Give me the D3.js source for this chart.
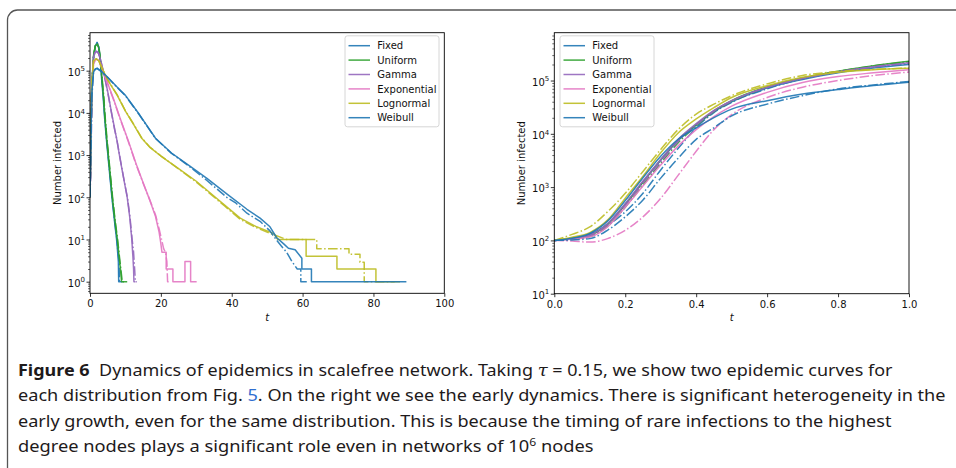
<!DOCTYPE html>
<html>
<head>
<meta charset="utf-8">
<script src="https://cdn.jsdelivr.net/npm/d3@7"></script>
<style>
  body { margin: 0; background: #fff; }
  svg { display: block; }
</style>
</head>
<body>
<svg id="figure"></svg>
<script>
const W = 956;
const H = 468;

const distNames = ["Fixed", "Uniform", "Gamma", "Exponential", "Lognormal", "Weibull"];
const distColors = ["#1f77b4", "#2ca02c", "#9467bd", "#e377c2", "#bcbd22", "#1f77b4"];

// Left panel: whole epidemic, [t, number infected]. A = solid run, B = dash-dot run
const fixedA = [[0,100],[0.3,3200],[0.5,40000],[1,200000],[1.5,380000],[2,470000],[2.4,380000],[2.9,170000],[3.3,60000],[3.7,25000],[4.1,8000],[4.6,2500],[5.4,480],[6.2,95],[6.9,28],[7.5,10],[7.8,5],[8,3],[8.1,1],[9.2,1]];
const fixedB = [[0,100],[0.3,2100],[0.5,39000],[1,207000],[1.5,390000],[2,460000],[2.5,360000],[3,160000],[3.4,58000],[3.8,23000],[4.2,7500],[4.7,2300],[5.5,450],[6.3,90],[7,26],[7.6,10],[7.9,5],[8.2,3],[8.3,1],[8.7,1]];
const uniformA = [[0,100],[0.3,3250],[0.5,42000],[1,230000],[1.5,390000],[2.1,430000],[2.5,340000],[3,160000],[3.4,60000],[3.8,25000],[4.2,8000],[4.7,2500],[5.5,500],[6.3,100],[7,30],[7.7,10],[8.2,4],[8.6,2],[8.9,1],[10.5,1]];
const uniformB = [[0,100],[0.3,2800],[0.5,40500],[1,226000],[1.5,385000],[2.1,420000],[2.6,320000],[3.1,150000],[3.5,57000],[3.9,23000],[4.3,7600],[4.8,2400],[5.6,480],[6.4,95],[7.1,28],[7.8,10],[8.3,4],[8.7,2],[9.1,1],[9.6,1]];
const gammaA = [[0,100],[0.3,3300],[0.5,42000],[1,215000],[1.4,270000],[1.9,290000],[2.4,260000],[3,180000],[4,80000],[5,32000],[6,11000],[7,4000],[7.5,2500],[8.5,800],[9.5,280],[10.5,100],[11.2,35],[11.8,10],[12.1,4],[12.3,2],[12.4,1],[12.8,1]];
const gammaB = [[0,100],[0.3,3000],[0.5,41000],[1,210000],[1.4,265000],[1.9,285000],[2.4,255000],[3,175000],[4,78000],[5,31000],[6,10500],[7,3800],[7.6,2300],[8.6,750],[9.6,260],[10.6,95],[11.3,33],[11.9,10],[12.3,5],[12.6,2],[12.8,1],[13.2,1]];
const expA = [[0,100],[0.3,2600],[0.5,33000],[1,160000],[1.7,190000],[2.5,175000],[3.5,110000],[5,50000],[6.6,22000],[8.5,7500],[10.8,2200],[13,620],[15,220],[17,80],[18.5,35],[19.5,15],[20,8],[20.3,5],[21.5,5],[21.5,2],[23.4,2],[23.4,1],[26.8,1],[26.8,3],[28.4,3],[28.4,1],[30.1,1]];
const expB = [[0,100],[0.3,616],[0.5,23000],[1,144000],[1.7,185000],[2.5,170000],[3.5,105000],[5,48000],[6.6,21000],[8.5,7200],[10.8,2100],[13,600],[15,215],[17,82],[18.5,38],[19.5,18],[20.2,10],[20.8,6],[21.3,5],[21.7,3],[21.9,1],[22.6,1]];
const lognormA = [[0,100],[0.3,4400],[0.5,48000],[1,170000],[1.8,190000],[2.5,170000],[3.5,110000],[5,60000],[7.7,26000],[10,11000],[12.5,5000],[14.6,2500],[17,1500],[20,950],[25,480],[30,240],[34.8,110],[38,65],[42.4,32],[47,20],[51.8,14],[53,10],[61,10],[61,4],[69.7,4],[69.7,2],[80.7,2],[80.7,1],[87.5,1]];
const lognormB = [[0,100],[0.3,5100],[0.5,52000],[1,171000],[1.8,192000],[2.5,172000],[3.5,112000],[5,61000],[7.7,26500],[10,11200],[12.5,5100],[14.6,2550],[17,1520],[20,960],[25,470],[30,230],[34.8,105],[38,62],[42.4,30],[47,19],[51.8,13],[55.5,10],[64,10],[64,6],[73.1,6],[73.1,4.5],[76.2,4.5],[76.2,2.9],[77.4,2.9],[77.4,1],[86,1]];
const weibullA = [[0,100],[0.3,3800],[0.5,29000],[1,93000],[1.5,110000],[2,115000],[3,100000],[5,70000],[7.5,42000],[10,26000],[14,9000],[18.5,2500],[23,1120],[28,560],[33,280],[38.6,120],[44.3,52],[48,32],[50.8,20],[52.7,11],[54.6,8],[56,6.2],[57.9,5.7],[59.8,3.6],[59.8,2],[62.5,2],[62.5,1],[89.3,1]];
const weibullB = [[0,100],[0.3,1475],[0.5,21700],[1,95900],[1.5,108000],[2,112000],[3,98000],[5,69000],[7.5,41000],[10,25500],[14,8800],[18.5,2450],[23,1100],[28,540],[33,250],[38.6,100],[41,75],[44.3,42],[48,27],[50.8,16],[52.5,10],[54,7],[55.5,5],[57,3],[58.5,2],[59.5,2],[59.5,1],[61.5,1]];

// Right panel: early growth, sampled at these times
const earlyT = [0, 0.05, 0.1, 0.15, 0.2, 0.25, 0.3, 0.35, 0.4, 0.45, 0.5, 0.6, 0.7, 0.8, 0.9, 1.0];
const earlyFixedA = [100,110,128,205,480,1250,3200,7600,14500,26000,40000,72000,105000,140000,172000,200000];
const earlyFixedB = [100,108,134,192,344,766,2100,5400,13000,25000,39000,70000,108000,144000,179000,207000];
const earlyUniformA = [100,108,124,200,470,1250,3250,7800,15000,27000,42000,76000,112000,150000,190000,230000];
const earlyUniformB = [100,106,118,185,420,1100,2800,6900,14000,26000,40500,74500,110000,148000,188000,226000];
const earlyGammaA = [100,109,126,205,490,1300,3300,8000,15500,27500,42000,75000,110000,146000,182000,215000];
const earlyGammaB = [100,107,122,195,450,1200,3000,7300,14500,26500,41000,74000,109000,145000,180000,210000];
const earlyExpA = [100,105,116,180,420,1050,2600,6000,12000,21000,33000,60000,92000,119000,140000,160000];
const earlyExpB = [100,97,93,108,155,277,616,1700,4700,12000,23000,48000,75000,100000,124000,144000];
const earlyLognormA = [100,115,140,240,620,1600,4400,10500,19000,31000,48000,80000,115000,143000,160000,170000];
const earlyLognormB = [100,130,179,344,766,1970,5100,12200,23400,36000,52000,86500,124000,148000,162000,171000];
const earlyWeibullA = [100,110,135,230,560,1500,3800,8000,13000,20200,29100,41900,56000,67600,80500,93100];
const earlyWeibullB = [100,102,108,155,277,573,1475,3530,7850,13000,21700,36100,52000,69600,82900,95900];

const leftXTicks = [0, 20, 40, 60, 80, 100];
const rightXTicks = [0, 0.2, 0.4, 0.6, 0.8, 1.0];
const leftYExp = [0, 1, 2, 3, 4, 5];
const rightYExp = [1, 2, 3, 4, 5];

const captionLines = [
  [{ t: "Figure 6", b: true }, { t: "  Dynamics of epidemics in scalefree network. Taking " }, { t: "τ", i: true }, { t: " = 0.15, we show two epidemic curves for" }],
  [{ t: "each distribution from Fig. " }, { t: "5", link: true }, { t: ". On the right we see the early dynamics. There is significant heterogeneity in the" }],
  [{ t: "early growth, even for the same distribution. This is because the timing of rare infections to the highest" }],
  [{ t: "degree nodes plays a significant role even in networks of 10" }, { t: "6", sup: true }, { t: " nodes", afterSup: true }],
];
const captionWidths = [875, 928, 874, 576];

const leftRuns = [[fixedA, fixedB], [uniformA, uniformB], [gammaA, gammaB], [expA, expB], [lognormA, lognormB], [weibullA, weibullB]];
const rightRuns = [
  [earlyFixedA, earlyFixedB], [earlyUniformA, earlyUniformB], [earlyGammaA, earlyGammaB],
  [earlyExpA, earlyExpB], [earlyLognormA, earlyLognormB], [earlyWeibullA, earlyWeibullB],
].map((pair) => pair.map((vals) => earlyT.map((t, i) => [t, vals[i]])));

const svg = d3.select("#figure").attr("width", W).attr("height", H);
svg.append("rect").attr("width", W).attr("height", H).attr("fill", "#fff");

// outer frame of the figure box
svg.append("path")
  .attr("d", "M7.5,468 L7.5,20 A10,10 0 0 1 17.5,10 L956,10")
  .attr("fill", "none")
  .attr("stroke", "#555")
  .attr("stroke-width", 1.3);

const panels = [
  {
    id: "left", left: 90, right: 444.3, top: 32.7, bottom: 293.3,
    xDomain: [0, 100], yDomain: [0.531, 7.94e5],
    xTicks: leftXTicks, xFmt: d3.format("d"), yExp: leftYExp,
    runs: leftRuns, curve: d3.curveLinear,
    legendX: 345, ylabelX: 60.5,
  },
  {
    id: "right", left: 554.3, right: 909, top: 32.7, bottom: 293.7,
    xDomain: [0, 1], yDomain: [10, 7.9e5],
    xTicks: rightXTicks, xFmt: d3.format(".1f"), yExp: rightYExp,
    runs: rightRuns, curve: d3.curveMonotoneX,
    legendX: 560, ylabelX: 524.5,
  },
];

panels.forEach((cfg) => drawPanel(cfg));
drawCaption();

function drawPanel(cfg) {
  const x = d3.scaleLinear().domain(cfg.xDomain).range([cfg.left, cfg.right]);
  const y = d3.scaleLog().domain(cfg.yDomain).range([cfg.bottom, cfg.top]);

  const clipId = `clip-${cfg.id}`;
  svg.append("clipPath").attr("id", clipId)
    .append("rect")
    .attr("x", cfg.left).attr("y", cfg.top)
    .attr("width", cfg.right - cfg.left).attr("height", cfg.bottom - cfg.top);

  const line = d3.line().x((d) => x(d[0])).y((d) => y(d[1])).curve(cfg.curve);

  const g = svg.append("g").attr("clip-path", `url(#${clipId})`);
  cfg.runs.forEach((pair, i) => {
    pair.forEach((data, k) => {
      g.append("path")
        .datum(data)
        .attr("d", line)
        .attr("fill", "none")
        .attr("stroke", distColors[i])
        .attr("stroke-opacity", 0.9)
        .attr("stroke-width", 1.5)
        .attr("stroke-linejoin", "round")
        .attr("stroke-dasharray", k ? "9.6,2.4,1.5,2.4" : null);
    });
  });

  // minor log ticks
  const minor = [];
  for (let e = -1; e <= 6; e++) {
    for (let s = 2; s <= 9; s++) {
      const v = s * Math.pow(10, e);
      if (v >= cfg.yDomain[0] && v <= cfg.yDomain[1]) minor.push(v);
    }
  }
  svg.append("g")
    .attr("transform", `translate(${cfg.left},0)`)
    .call(d3.axisLeft(y).tickValues(minor).tickSize(2).tickSizeOuter(0).tickFormat(""))
    .call((a) => a.select(".domain").remove())
    .selectAll("line").attr("stroke-width", 0.6);

  const majors = cfg.yExp.map((e) => Math.pow(10, e));
  svg.append("g")
    .attr("transform", `translate(${cfg.left},0)`)
    .call(d3.axisLeft(y).tickValues(majors).tickSize(3.5).tickSizeOuter(0).tickFormat(""))
    .call((a) => a.select(".domain").remove())
    .selectAll("line").attr("stroke-width", 0.8);

  // y tick labels as 10^k
  cfg.yExp.forEach((e) => {
    const t = svg.append("text")
      .attr("x", cfg.left - 5)
      .attr("y", y(Math.pow(10, e)) + 5.3)
      .attr("text-anchor", "end")
      .attr("font-family", "DejaVu Sans")
      .attr("font-size", 10)
      .attr("fill", "#111");
    t.append("tspan").text("10");
    t.append("tspan").attr("dy", -4.6).attr("font-size", 7).text(e);
  });

  svg.append("g")
    .attr("transform", `translate(0,${cfg.bottom})`)
    .call(d3.axisBottom(x).tickValues(cfg.xTicks).tickSize(3.5).tickPadding(3.5).tickSizeOuter(0).tickFormat(cfg.xFmt))
    .call((a) => a.select(".domain").remove())
    .call((a) => a.selectAll("line").attr("stroke-width", 0.8))
    .call((a) => a.selectAll("text").attr("font-family", "DejaVu Sans").attr("font-size", 10).attr("fill", "#111"));

  // axes frame
  svg.append("rect")
    .attr("x", cfg.left).attr("y", cfg.top)
    .attr("width", cfg.right - cfg.left).attr("height", cfg.bottom - cfg.top)
    .attr("fill", "none").attr("stroke", "#000").attr("stroke-width", 0.9);

  // axis labels
  svg.append("text")
    .attr("x", (cfg.left + cfg.right) / 2)
    .attr("y", 321)
    .attr("text-anchor", "middle")
    .attr("font-family", "DejaVu Sans")
    .attr("font-style", "italic")
    .attr("font-size", 10)
    .attr("fill", "#111")
    .text("t");

  svg.append("text")
    .attr("transform", `translate(${cfg.ylabelX},${(cfg.top + cfg.bottom) / 2}) rotate(-90)`)
    .attr("text-anchor", "middle")
    .attr("font-family", "DejaVu Sans")
    .attr("font-size", 10)
    .attr("fill", "#111")
    .text("Number infected");

  drawLegend(cfg.legendX);
}

function drawLegend(lx) {
  const top = 35.8;
  const lg = svg.append("g");
  lg.append("rect")
    .attr("x", lx).attr("y", top)
    .attr("width", 94).attr("height", 91)
    .attr("rx", 2.5)
    .attr("fill", "#fff").attr("fill-opacity", 0.8)
    .attr("stroke", "#ccc").attr("stroke-width", 0.8);

  distNames.forEach((name, i) => {
    const ry = 45.7 + i * 14.4;
    lg.append("line")
      .attr("x1", lx + 3.5).attr("x2", lx + 25)
      .attr("y1", ry).attr("y2", ry)
      .attr("stroke", distColors[i])
      .attr("stroke-opacity", 0.9)
      .attr("stroke-width", 1.5);
    lg.append("text")
      .attr("x", lx + 32.3)
      .attr("y", ry + 3.6)
      .attr("font-family", "DejaVu Sans")
      .attr("font-size", 10)
      .attr("fill", "#111")
      .text(name);
  });
}

function drawCaption() {
  const baselines = [375.5, 401, 426.5, 452];
  captionLines.forEach((parts, li) => {
    const g = svg.append("g");
    const text = g.append("text")
      .attr("font-family", "Noto Sans")
      .attr("font-size", 16.5)
      .attr("fill", "#1e1a1b")
      .style("white-space", "pre");
    parts.forEach((p) => {
      const ts = text.append("tspan").text(p.t);
      if (p.b) ts.attr("font-weight", "bold");
      if (p.i) ts.attr("font-style", "italic").attr("font-family", "DejaVu Serif");
      if (p.link) ts.attr("fill", "#2f6fd0");
      if (p.sup) ts.attr("dy", -6.5).attr("font-size", 11);
      if (p.afterSup) ts.attr("dy", 6.5);
    });
    const w = text.node().getComputedTextLength();
    g.attr("transform", `translate(18,${baselines[li]}) scale(${captionWidths[li] / w},1)`);
  });
}
</script>
</body>
</html>
